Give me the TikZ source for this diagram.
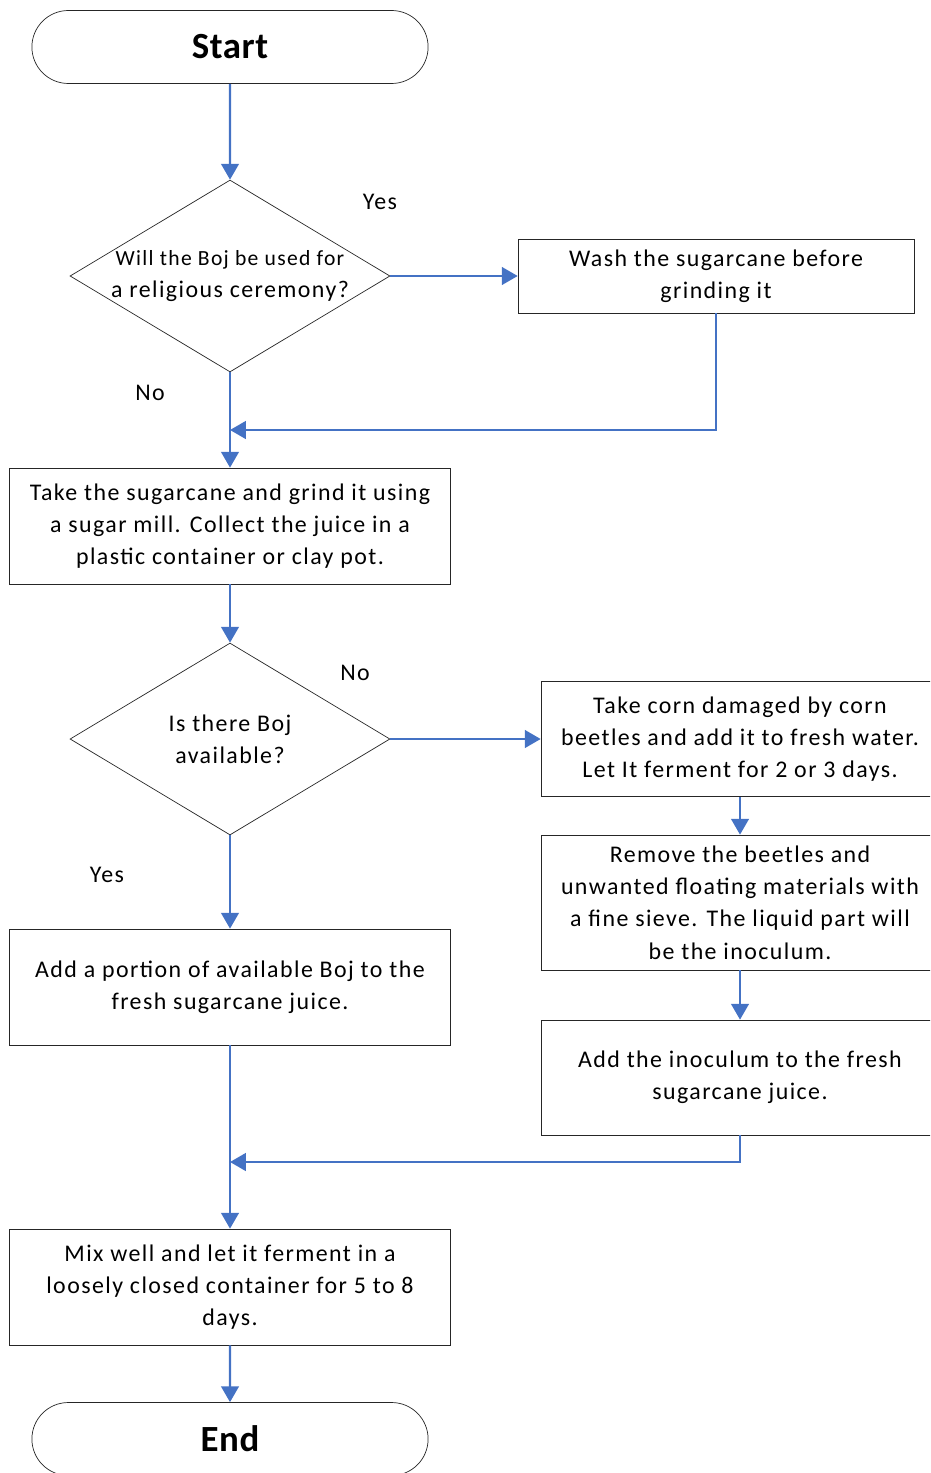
\documentclass[tikz,border=0pt]{standalone}
\usepackage{fontspec}
\setmainfont{Carlito}[LetterSpace=6]
\usetikzlibrary{shapes.geometric,shapes.misc,arrows.meta,positioning}
\definecolor{flowblue}{RGB}{68,114,196}

\begin{document}
\begin{tikzpicture}[x=0.02cm, y=-0.02cm, align=center, font=\fontsize{13.6}{18.4}\selectfont]
    \tikzset{
        term/.style     =   { rounded rectangle
                            , draw=black!85
                            , minimum width=8.16cm
                            , minimum height=1.46cm
                            , font=\fontsize{21}{24}\selectfont\bfseries\addfontfeatures{LetterSpace=1.5}
        }
        , decision/.style = { diamond
                            , draw=black!85
                            , minimum width=6.4cm
                            , minimum height=3.84cm
                            , inner sep=0pt
        }
        , box/.style    =   { rectangle
                            , draw=black!85
                            , minimum width=8.82cm
                            , minimum height=2.32cm
        }
        , sidebox/.style =  { rectangle
                            , draw=black!85
                            , minimum width=7.96cm
                            , minimum height=2.3cm
        }
        , flow/.style   =   { flowblue
                            , line width=1.4pt
                            , -{Triangle[width=10pt,length=9pt]}
        }
    }
    \useasboundingbox (0,0) rectangle (930,1473);
    \clip (0,0) rectangle (930,1473);

    % main column
    \node(start)[term]      at (230,47)   {Start};
    \node(q1)[decision]     at (230,276)  {};
    \node(q1t)              at (q1)       {\fontsize{12.3}{16.5}\selectfont Will the Boj be used for\\a religious ceremony?};
    \node(wash)[box, minimum width=7.92cm, minimum height=1.48cm] at (716,276) {Wash the sugarcane before\\grinding it};
    \node(grind)[box]       at (230,526)  {Take the sugarcane and grind it using\\a sugar mill. Collect the juice in a\\plastic container or clay pot.};
    \node(q2)[decision]     at (230,739)  {};
    \node(q2t)              at (q2)       {Is there Boj\\available?};
    \node(addboj)[box]      at (230,987)  {Add a portion of available Boj to the\\fresh sugarcane juice.};
    \node(mix)[box]         at (230,1287) {Mix well and let it ferment in a\\loosely closed container for 5 to 8\\days.};
    \node(stop)[term]       at (230,1439) {End};

    % side column
    \node(corn)[sidebox]    at (740,739)  {Take corn damaged by corn\\beetles and add it to fresh water.\\Let It ferment for 2 or 3 days.};
    \node(sieve)[sidebox, minimum height=2.7cm] at (740,902.5) {Remove the beetles and\\unwanted floating materials with\\a fine sieve. The liquid part will\\be the inoculum.};
    \node(inoc)[sidebox]    at (740,1077.5) {Add the inoculum to the fresh\\sugarcane juice.};

    % branch labels
    \node(yes1)             at (380,202)  {Yes};
    \node(no1)              at (150,393)  {No};
    \node(no2)              at (355,673)  {No};
    \node(yes2)             at (107,875)  {Yes};

    \coordinate(j1)         at (230,430);
    \coordinate(j2)         at (230,1162);

    \draw[flow] (start) -- (q1);
    \draw[flow] (q1.east) -- (wash.west);
    \draw[flow] (q1.south) -- (grind.north);
    \draw[flow] (wash.south) |- (j1);
    \draw[flow] (grind) -- (q2);
    \draw[flow] (q2.east) -- (corn.west);
    \draw[flow] (q2.south) -- (addboj.north);
    \draw[flow] (corn) -- (sieve);
    \draw[flow] (sieve) -- (inoc);
    \draw[flow] (inoc.south) |- (j2);
    \draw[flow] (addboj) -- (mix);
    \draw[flow] (mix) -- (stop);
\end{tikzpicture}
\end{document}
